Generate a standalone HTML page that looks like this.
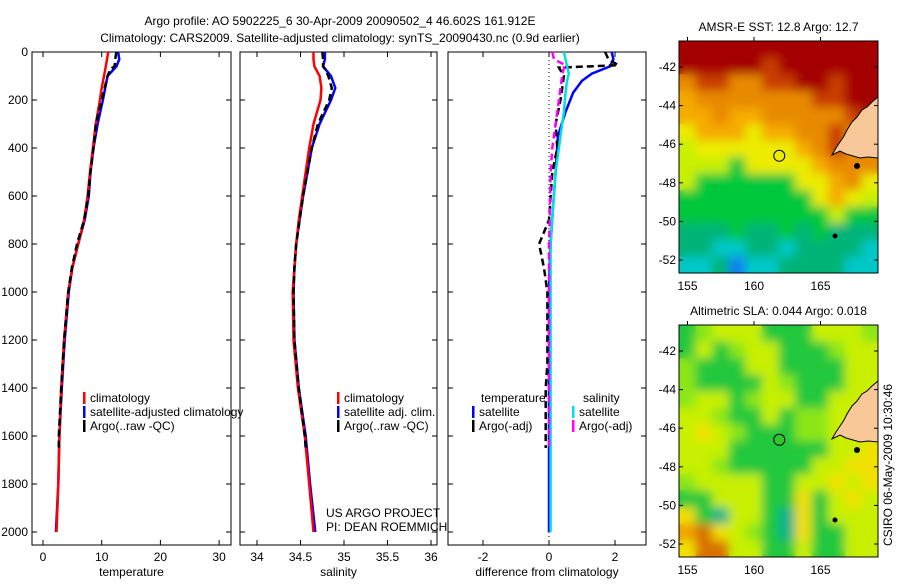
<!DOCTYPE html>
<html><head><meta charset="utf-8"><style>
body{margin:0;background:#fff;}
svg text{font-family:"Liberation Sans",sans-serif;font-size:12px;fill:#000;}
</style></head><body>
<svg id="fig" width="900" height="580" xmlns="http://www.w3.org/2000/svg">
<defs>
<filter id="blur" x="-5%" y="-5%" width="110%" height="110%"><feGaussianBlur stdDeviation="5"/></filter>
<clipPath id="clipTop"><rect x="679" y="41" width="199" height="232"/></clipPath>
<clipPath id="clipBot"><rect x="679" y="325" width="199" height="232"/></clipPath>
</defs>
<text x="340" y="25" text-anchor="middle" font-size="13">Argo profile: AO 5902225_6 30-Apr-2009 20090502_4 46.602S 161.912E</text>
<text x="340" y="42" text-anchor="middle" font-size="13">Climatology: CARS2009. Satellite-adjusted climatology: synTS_20090430.nc (0.9d earlier)</text>
<g id="panels"></g>
<g id="maps"></g>
<text transform="translate(892,465) rotate(-90)" text-anchor="middle">CSIRO 06-May-2009 10:30:46</text>
</svg>
<script>
const NS="http://www.w3.org/2000/svg";
// ---- data ----
const depthsT=[0,30,60,100,150,200,300,400,500,600,700,800,900,1000,1200,1400,1600,1800,2000];
const tempClim=[11.1,10.9,10.7,10.4,10.0,9.7,9.0,8.5,8.0,7.6,7.0,6.0,5.0,4.3,3.6,3.1,2.8,2.6,2.3];
const tempSat=[12.8,13.0,12.5,11.0,10.6,10.2,9.3,8.6,8.1,7.8,7.1,6.0,5.0,4.4,3.7,3.2,2.8,2.6,2.2];
const depthsA=[0,30,60,70,100,150,200,300,400,500,600,700,800,900,1000,1200,1400,1600,1650];
const tempArgo=[12.5,12.3,12.2,11.5,11.0,10.5,10.0,9.0,8.6,8.1,7.7,7.0,5.8,4.9,4.3,3.6,3.1,2.7,2.7];
const salClim=[34.65,34.65,34.66,34.72,34.74,34.73,34.65,34.60,34.56,34.52,34.48,34.45,34.43,34.41,34.42,34.47,34.55,34.60,34.65];
const salSat=[34.78,34.78,34.76,34.85,34.90,34.85,34.72,34.63,34.58,34.53,34.49,34.45,34.43,34.42,34.43,34.48,34.56,34.61,34.67];
const salArgo=[34.75,34.76,34.76,34.78,34.82,34.86,34.83,34.70,34.63,34.58,34.53,34.49,34.45,34.43,34.42,34.43,34.48,34.55,34.56];
const dDepth=[0,30,60,90,120,170,250,350,500,650,800,900,1000,1200,1400,1600,1800,2000];
const dTempSat=[1.9,1.95,1.85,1.3,1.0,0.73,0.5,0.27,0.2,0.12,0.05,0.02,0.0,0.0,0.0,0.0,0.0,0.0];
const dSalSat=[0.45,0.5,0.55,0.6,0.55,0.5,0.45,0.35,0.2,0.12,0.05,0.05,0.05,0.05,0.05,0.05,0.05,0.05];
const dADepth=[0,30,55,65,100,200,300,400,500,700,800,900,1000,1300,1400,1650];
const dTempArgo=[1.7,1.8,2.1,0.3,0.45,0.35,0.2,0.25,0.1,0.0,-0.3,-0.15,-0.05,-0.05,-0.1,-0.1];
const dSalArgo=[0.1,0.15,0.5,0.45,0.4,0.3,0.2,0.1,0.05,0.02,0.0,0.0,0.0,0.0,0.0,0.0];
const depthTicks=[0,200,400,600,800,1000,1200,1400,1600,1800,2000];
const tempTicks=[0,10,20,30];
const salTicks=[34,34.5,35,35.5,36];
const diffTicks=[-2,0,2];
// ---- axes ----
const yD=d=>52+d*0.24;
const panels=[
 {name:"temperature",x0:32,x1:231,f:v=>43+v*5.87,ticks:tempTicks,label:"temperature",left:true},
 {name:"salinity",x0:240,x1:437,f:v=>257+(v-34)*87,ticks:salTicks,label:"salinity"},
 {name:"difference",x0:448,x1:646,f:v=>549+v*33,ticks:diffTicks,label:"difference from climatology"}];
const g=document.getElementById('panels');
function el(tag,attrs,parent){const e=document.createElementNS(NS,tag);for(const k in attrs)e.setAttribute(k,attrs[k]);(parent||g).appendChild(e);return e;}
function txt(s,attrs,parent){const e=el('text',attrs,parent);e.textContent=s;return e;}
function line(p,xs,ds,color,name,dash){
 const pts=xs.map((v,i)=>p.f(v).toFixed(1)+","+yD(ds[i]).toFixed(1)).join(" ");
 const e=el('polyline',{points:pts,fill:"none",stroke:color,"stroke-width":2.5});
 if(dash)e.setAttribute('stroke-dasharray','7,4');
 
 
}
panels.forEach(p=>{
 const r=el('rect',{x:p.x0,y:52,width:p.x1-p.x0,height:493,fill:"none",stroke:"#000","stroke-width":1});
 
 
 depthTicks.forEach(d=>{
  el('line',{x1:p.x0,x2:p.x0+5,y1:yD(d),y2:yD(d),stroke:"#000"});
  el('line',{x1:p.x1-5,x2:p.x1,y1:yD(d),y2:yD(d),stroke:"#000"});
  if(p.left){const t=txt(String(d),{x:28,y:yD(d)+4,"text-anchor":"end"});
   
   }
 });
 p.ticks.forEach(v=>{
  const x=p.f(v);
  el('line',{x1:x,x2:x,y1:545,y2:540,stroke:"#000"});
  el('line',{x1:x,x2:x,y1:52,y2:57,stroke:"#000"});
  const t=txt(String(v),{x:x,y:561,"text-anchor":"middle"});
  
  
 });
 const l=txt(p.label,{x:(p.x0+p.x1)/2,y:576,"text-anchor":"middle"});
 
 
});
const [pT,pS,pD]=panels;
line(pT,tempSat,depthsT,"#0000ff","temp-satellite-line");
line(pT,tempClim,depthsT,"#ff0000","temp-climatology-line");
line(pT,tempArgo,depthsA,"#000","temp-argo-line",true);
line(pS,salSat,depthsT,"#0000ff","sal-satellite-line");
line(pS,salClim,depthsT,"#ff0000","sal-climatology-line");
line(pS,salArgo,depthsA,"#000","sal-argo-line",true);
el('line',{x1:pD.f(0),x2:pD.f(0),y1:52,y2:545,stroke:"#000","stroke-dasharray":"1,3"});
line(pD,dTempSat,dDepth,"#0000ff","diff-temp-satellite-line");
line(pD,dTempArgo,dADepth,"#000","diff-temp-argo-line",true);
line(pD,dSalSat,dDepth,"#00e0e0","diff-sal-satellite-line");
line(pD,dSalArgo,dADepth,"#ff00ff","diff-sal-argo-line",true);
// legends
function legend(x,y,color,label,name){
 el('rect',{x:x,y:y-10,width:2.5,height:12,fill:color});
 const t=txt(label,{x:x+7,y:y});
 
 
}
legend(83,402,"#ff0000","climatology","legend-climatology");
legend(83,416,"#0000ff","satellite-adjusted climatology","legend-satellite-adjusted");
legend(83,430,"#000","Argo(..raw -QC)","legend-argo");
legend(337,402,"#ff0000","climatology","legend-sal-climatology");
legend(337,416,"#0000ff","satellite adj. clim.","legend-sal-satellite");
legend(337,430,"#000","Argo(..raw -QC)","legend-sal-argo");
txt("temperature",{x:481,y:402});
txt("salinity",{x:583,y:402});
legend(472,416,"#0000ff","satellite","legend-diff-temp-satellite");
legend(472,430,"#000","Argo(-adj)","legend-diff-temp-argo");
legend(572,416,"#00e0e0","satellite","legend-diff-sal-satellite");
legend(572,430,"#ff00ff","Argo(-adj)","legend-diff-sal-argo");
txt("US ARGO PROJECT",{x:326,y:517});
txt("PI: DEAN ROEMMICH",{x:326,y:531});
// ---- maps ----
const sstGrid=["DDDDDDDDDDDD","DDDDDRDDDDDD","ORROORRDDRDD","LOOOOOOORRDD","LLOLLOOOOORD","YLLLYLLOOROD","GYYYYYYLOROO","GGGNYYYYLOOO","GNNNNNNYYLOY","NNNNNNNNYLYG","NNNNNNNNNGNN","TTTNTTNTNTTT","TTCCTTCTTTTC","CCTBCCTTTTCC"];
const sstColors={D:"#a50000",R:"#c83c00",O:"#e88a00",L:"#f5aa00",Y:"#ecec00",G:"#c8f000",N:"#00c83c",T:"#00b478",C:"#00c8c8",B:"#0a82f0"};
const slaGrid=["klyyykkkyyyl","kyklyykkklyy","lkkkyykkkkyy","lkkkkylkkkyy","lyyklyykkyyy","yylkkykllyyy","yYylkkkllyyy","yyykkkkkkyyY","yylkkkkkyyYY","lyyyykkyyYyY","kkyyykkYkyYy","YkTyykTYkyyy","ORYylkTYkkyy","YRRyykkykkyy"];
const slaColors={k:"#20c83c",l:"#8ce614",y:"#c8f000",Y:"#f0e000",O:"#f0a000",R:"#d87000",T:"#00b48c"};
const mg=document.getElementById('maps');
const latTicks=[-42,-44,-46,-48,-50,-52], lonTicks=[155,160,165];
function drawMap(y0,grid,colors,title,name,circFill,clip){
 const x0=679,w=199,h=232;
 const grp=el('g',{},mg);
 
 
 const cw=w/12,ch=h/14;
 const base=el('g',{"clip-path":"url(#"+clip+")"},grp);
 const blurred=el('g',{filter:"url(#blur)"},base);
 [base,blurred].forEach(layer=>{
  grid.forEach((row,r)=>[...row].forEach((c,k)=>{
   el('rect',{x:(x0+k*cw).toFixed(1),y:(y0+r*ch).toFixed(1),width:cw+0.6,height:ch+0.6,fill:colors[c]},layer===base?base:blurred);
  }));
 });
 base.appendChild(blurred);
 const lx=v=>754+(v-160)*13.3, ly=v=>y0+26+(-42-v)*19.3;
 const land=[[878,97],[872,102],[867,107],[862,110],[857,117],[852,122],[847,130],[844,136],[840,142],[836,148],[832,155],[840,151],[846,154],[853,156],[860,158],[868,157],[878,158]].map(p=>p[0]+","+(p[1]-41+y0)).join(" ");
 el('polygon',{points:land,fill:"#f8c898",stroke:"#000","stroke-width":1},grp);
 el('circle',{cx:857,cy:y0+125,r:3,fill:"#000"},grp);
 el('circle',{cx:835,cy:y0+195,r:2.5,fill:"#000"},grp);
 const c=el('circle',{cx:lx(161.9),cy:ly(-46.6),r:5.5,fill:circFill,stroke:"#000"},grp);
 
 
 el('rect',{x:x0,y:y0,width:w,height:h,fill:"none",stroke:"#000"},grp);
 latTicks.forEach(v=>{el('line',{x1:x0,x2:x0+4,y1:ly(v),y2:ly(v),stroke:"#000"},grp);
  el('line',{x1:x0+w-4,x2:x0+w,y1:ly(v),y2:ly(v),stroke:"#000"},grp);
  txt(String(v),{x:x0-3,y:ly(v)+4,"text-anchor":"end"},grp);});
 lonTicks.forEach(v=>{el('line',{x1:lx(v),x2:lx(v),y1:y0,y2:y0-4,stroke:"#000"},grp);
  txt(String(v),{x:lx(v),y:y0+h+17,"text-anchor":"middle"},grp);});
 const t=txt(title,{x:x0+w/2,y:y0-10,"text-anchor":"middle"},grp);
 
 
}
drawMap(41,sstGrid,sstColors,"AMSR-E SST: 12.8 Argo: 12.7","sst-map","none","clipTop");
drawMap(325,slaGrid,slaColors,"Altimetric SLA: 0.044 Argo: 0.018","sla-map","#30c830","clipBot");
</script>
</body></html>
